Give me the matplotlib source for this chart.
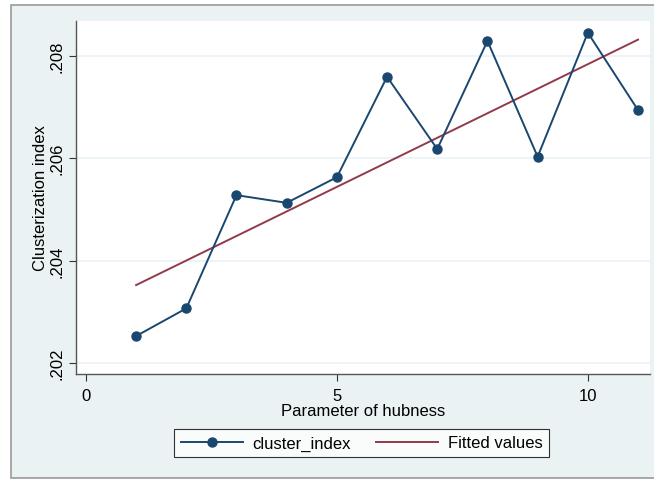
import matplotlib
matplotlib.use('Agg')
import matplotlib.pyplot as plt
from matplotlib.patches import Rectangle
from matplotlib.ticker import FuncFormatter
import numpy as np

plt.rcParams['font.family'] = ['Liberation Sans', 'DejaVu Sans']

hubness = [1, 2, 3, 4, 5, 6, 7, 8, 9, 10, 11]
cluster_index = [0.20253, 0.20307, 0.20528, 0.20513, 0.20563, 0.20759,
                 0.20618, 0.20829, 0.20603, 0.20845, 0.20694]
xticks = [0, 5, 10]
yticks = [0.202, 0.204, 0.206, 0.208]

navy = '#1A476F'
maroon = '#93394A'
bg = '#EAF2F3'

# linear fit, like stata's lfit
slope, icpt = np.polyfit(hubness, cluster_index, 1)
fitted = [slope * h + icpt for h in hubness]

fig = plt.figure(figsize=(6.54, 4.81), dpi=100)
fig.patch.set_facecolor('white')
fig.patches.append(Rectangle((11 / 654, 2 / 481), 700 / 654, 473 / 481,
                             transform=fig.transFigure, facecolor=bg,
                             edgecolor='#9a9a9a', linewidth=1.2, zorder=-10))

ax = fig.add_axes([0.116, 0.2204, 0.878, 0.734])
ax.set_facecolor('white')

for t in yticks:
    ax.axhline(t, color=bg, linewidth=1.2, zorder=1)

ax.plot(hubness, cluster_index, color=navy, marker='o', markersize=6.5,
        linewidth=1.4, label='cluster_index', zorder=3)
ax.plot(hubness, fitted, color=maroon, linewidth=1.4, label='Fitted values', zorder=2)

ax.set_xlim(-0.2, 11.24)
ax.set_ylim(0.20179, 0.20868)
ax.set_xticks(xticks)
ax.set_yticks(yticks)
ax.yaxis.set_major_formatter(FuncFormatter(lambda v, p: ('%.3f' % v)[1:]))
for lbl in ax.get_yticklabels():
    lbl.set_rotation(90)
    lbl.set_va('center')

ax.tick_params(direction='out', length=5, width=0.8, color='#333333',
               labelsize=12, pad=3)
ax.tick_params(axis='x', pad=5)
for s in ['top', 'right']:
    ax.spines[s].set_visible(False)
for s in ['left', 'bottom']:
    ax.spines[s].set_color('#555555')
    ax.spines[s].set_linewidth(1.0)

ax.set_xlabel('Parameter of hubness', fontsize=12, labelpad=0)
ax.set_ylabel('Clusterization index', fontsize=12, labelpad=1)

leg = fig.legend(loc='center', bbox_to_anchor=(0.553, 0.077), ncol=2,
                 fontsize=12, frameon=True, fancybox=False, edgecolor='black',
                 handlelength=3.7, handletextpad=0.6, columnspacing=1.5,
                 borderpad=0.4)
leg.get_frame().set_linewidth(0.8)

fig.savefig('out.png', dpi=100, facecolor=fig.get_facecolor())
